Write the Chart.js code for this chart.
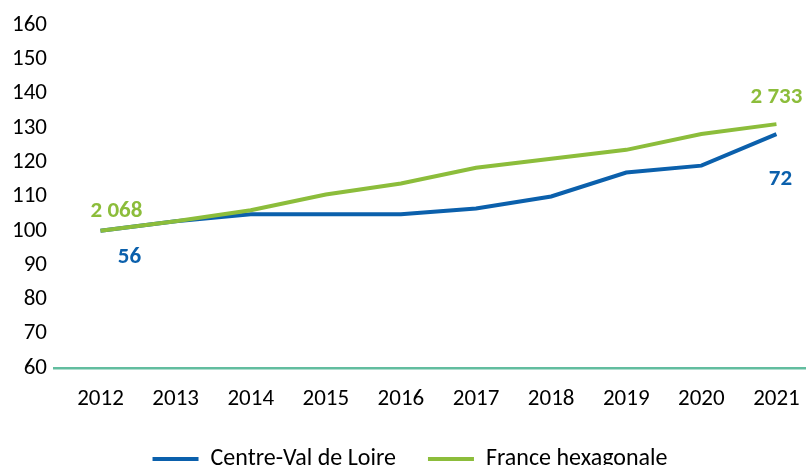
<!DOCTYPE html>
<html>
<head>
<meta charset="utf-8">
<script src="https://cdn.jsdelivr.net/npm/chart.js@4/dist/chart.umd.min.js"></script>
<style>
  html, body { margin: 0; padding: 0; background: #fff; overflow: hidden; }
  #wrap { position: absolute; left: 0; top: 0; width: 830px; height: 481px; }
</style>
</head>
<body>
<div id="wrap"><canvas id="chart"></canvas></div>
<script>
var years = ["2012", "2013", "2014", "2015", "2016", "2017", "2018", "2019", "2020", "2021"];
var centreVal = [100, 102.8, 104.8, 104.8, 104.8, 106.5, 110, 117, 119, 128.2];
var franceHex = [100, 102.8, 106, 110.6, 113.8, 118.4, 121, 123.6, 128.2, 131.1];
var yTicks = [60, 70, 80, 90, 100, 110, 120, 130, 140, 150, 160];
// effectifs affiches en debut / fin de periode
var centreLabels = ["56", "72"];
var franceLabels = ["2 068", "2 733"];

var BLUE = "#0b60ac";
var GREEN = "#8cbd3b";
var AXIS = "#62bd9f";
var FONT = "Carlito, Lato, sans-serif";
var FS = 23;

// labels de donnees (premier et dernier point), decales comme dans Excel
var endLabels = {
  id: "endLabels",
  afterDatasetsDraw: function (chart) {
    var ctx = chart.ctx;
    var specs = [
      { ds: 0, idx: 0, text: centreLabels[0], dx: 29, dy: 26 },
      { ds: 0, idx: 9, text: centreLabels[1], dx: 4, dy: 45 },
      { ds: 1, idx: 0, text: franceLabels[0], dx: 16, dy: -20 },
      { ds: 1, idx: 9, text: franceLabels[1], dx: 0, dy: -27 }
    ];
    ctx.save();
    ctx.font = "bold " + FS + "px " + FONT;
    ctx.textAlign = "center";
    ctx.textBaseline = "middle";
    specs.forEach(function (s) {
      var pt = chart.getDatasetMeta(s.ds).data[s.idx];
      ctx.fillStyle = chart.data.datasets[s.ds].borderColor;
      ctx.fillText(s.text, pt.x + s.dx, pt.y + s.dy);
    });
    ctx.restore();
  }
};

new Chart(document.getElementById("chart"), {
  type: "line",
  data: {
    labels: years,
    datasets: [
      {
        label: "Centre-Val de Loire",
        data: centreVal,
        borderColor: BLUE,
        backgroundColor: BLUE,
        borderWidth: 4,
        pointRadius: 0,
        tension: 0,
        order: 1
      },
      {
        label: "France hexagonale",
        data: franceHex,
        borderColor: GREEN,
        backgroundColor: GREEN,
        borderWidth: 4,
        pointRadius: 0,
        tension: 0,
        order: 0
      }
    ]
  },
  options: {
    responsive: true,
    maintainAspectRatio: false,
    animation: false,
    layout: { padding: { top: 25, right: 16, left: 6, bottom: 0 } },
    scales: {
      x: {
        offset: true,
        grid: { display: false, drawTicks: false },
        border: { display: false },
        ticks: {
          color: "#000",
          font: { family: FONT, size: FS },
          padding: 17,
          maxRotation: 0
        },
        afterFit: function (axis) { axis.height = 47; }
      },
      y: {
        min: yTicks[0],
        max: yTicks[yTicks.length - 1],
        afterBuildTicks: function (axis) {
          axis.ticks = yTicks.map(function (v) { return { value: v }; });
        },
        grid: {
          drawTicks: true,
          tickLength: 10,
          lineWidth: 2.5,
          color: function (c) { return c.tick && c.tick.value === yTicks[0] ? AXIS : "rgba(0,0,0,0)"; }
        },
        border: { display: false },
        ticks: {
          color: "#000",
          font: { family: FONT, size: FS },
          padding: 6
        }
      }
    },
    plugins: {
      legend: {
        position: "bottom",
        labels: {
          color: "#000",
          font: { family: FONT, size: 24 },
          boxWidth: 46,
          boxHeight: 4,
          padding: 32,
          generateLabels: function (chart) {
            return chart.data.datasets.map(function (ds, i) {
              return {
                text: ds.label,
                fillStyle: ds.borderColor,
                strokeStyle: ds.borderColor,
                lineWidth: 0,
                fontColor: "#000",
                datasetIndex: i
              };
            });
          }
        }
      },
      tooltip: { enabled: false }
    }
  },
  plugins: [endLabels]
});
</script>
</body>
</html>
